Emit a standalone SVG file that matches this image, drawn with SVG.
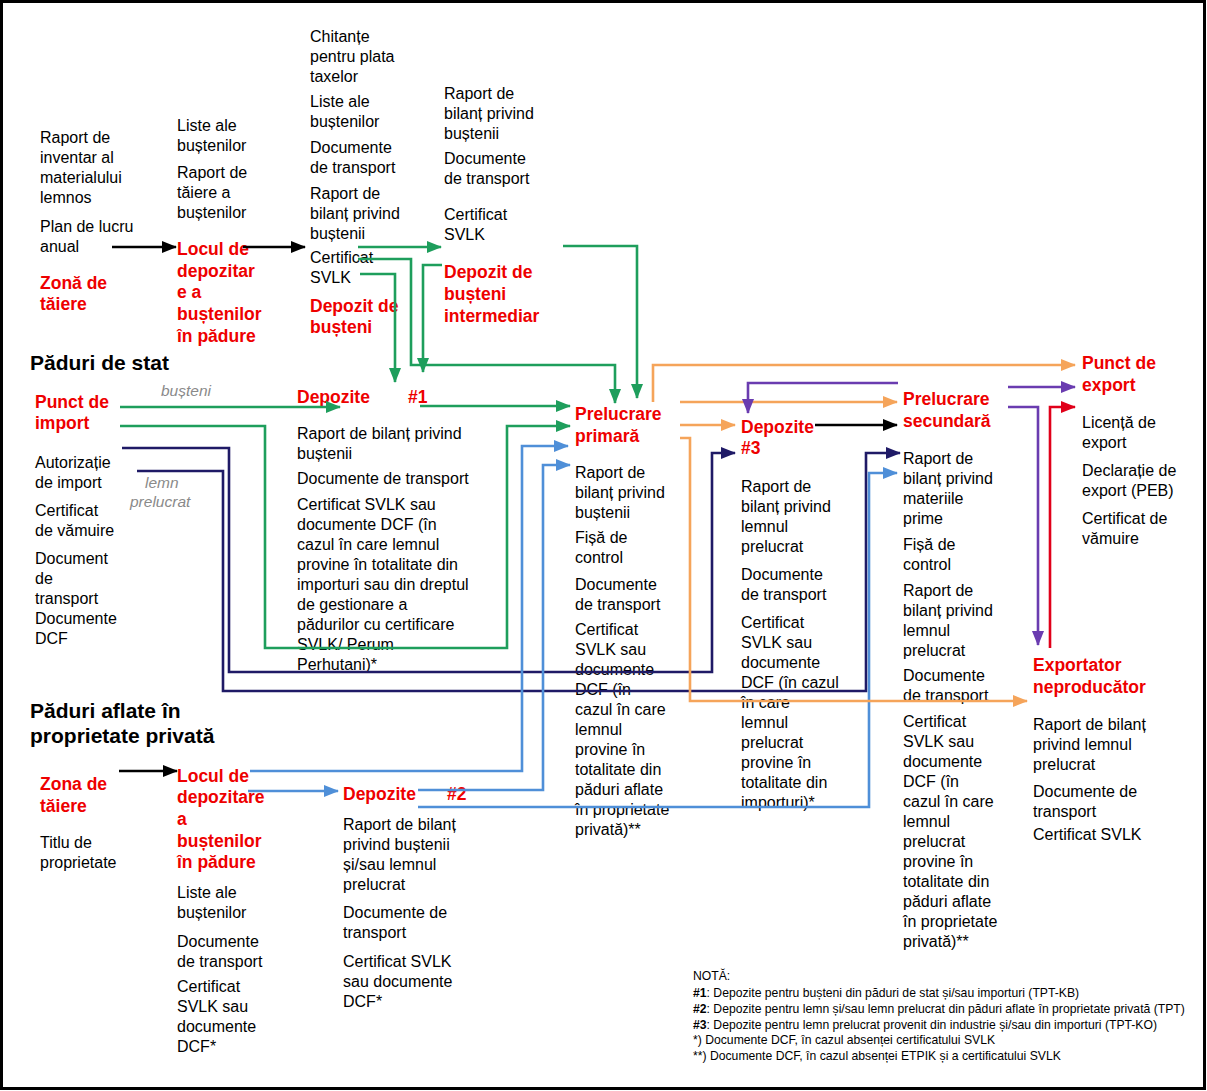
<svg xmlns="http://www.w3.org/2000/svg" width="1207" height="1091" viewBox="0 0 1207 1091">
<style>
text{font-family:"Liberation Sans",Arial,sans-serif}
.t{font-size:16px;fill:#000}
.r{font-size:17.5px;font-weight:bold;fill:#ee0000}
.h{font-size:21px;font-weight:bold;fill:#000}
.g{font-size:15.5px;font-style:italic;fill:#8a8a8a}
.n{font-size:12.2px;fill:#000}
.c{fill:none;stroke-width:2.6}
.k{stroke:#000;marker-end:url(#ak)}
.gr{stroke:#1e9e5c;marker-end:url(#ag)}
.nv{stroke:#1f1a66;marker-end:url(#an)}
.bl{stroke:#4f8fd8;marker-end:url(#ab)}
.or{stroke:#f5a45a;marker-end:url(#ao)}
.pu{stroke:#6a3cb0;marker-end:url(#ap)}
.rd{stroke:#e0001a;marker-end:url(#ar)}
</style>
<defs>
<marker id="ak" markerUnits="userSpaceOnUse" markerWidth="15" markerHeight="12" refX="14" refY="6" orient="auto"><path d="M0,0L15,6L0,12z" fill="#000"/></marker>
<marker id="ag" markerUnits="userSpaceOnUse" markerWidth="15" markerHeight="12" refX="14" refY="6" orient="auto"><path d="M0,0L15,6L0,12z" fill="#1e9e5c"/></marker>
<marker id="an" markerUnits="userSpaceOnUse" markerWidth="15" markerHeight="12" refX="14" refY="6" orient="auto"><path d="M0,0L15,6L0,12z" fill="#1f1a66"/></marker>
<marker id="ab" markerUnits="userSpaceOnUse" markerWidth="15" markerHeight="12" refX="14" refY="6" orient="auto"><path d="M0,0L15,6L0,12z" fill="#4f8fd8"/></marker>
<marker id="ao" markerUnits="userSpaceOnUse" markerWidth="15" markerHeight="12" refX="14" refY="6" orient="auto"><path d="M0,0L15,6L0,12z" fill="#f5a45a"/></marker>
<marker id="ap" markerUnits="userSpaceOnUse" markerWidth="15" markerHeight="12" refX="14" refY="6" orient="auto"><path d="M0,0L15,6L0,12z" fill="#6a3cb0"/></marker>
<marker id="ar" markerUnits="userSpaceOnUse" markerWidth="15" markerHeight="12" refX="14" refY="6" orient="auto"><path d="M0,0L15,6L0,12z" fill="#e0001a"/></marker>
</defs>
<rect x="0" y="0" width="1207" height="1091" fill="#fff"/>
<rect x="1.5" y="1.5" width="1203" height="1087" fill="none" stroke="#000" stroke-width="3"/>

<g id="zona-taiere-stat">
<text class="t" x="40"><tspan x="40" y="143">Raport de</tspan><tspan x="40" y="163">inventar al</tspan><tspan x="40" y="183">materialului</tspan><tspan x="40" y="203">lemnos</tspan><tspan x="40" y="232">Plan de lucru</tspan><tspan x="40" y="252">anual</tspan></text>
<text class="r"><tspan x="40" y="289">Zonă de</tspan><tspan x="40" y="310">tăiere</tspan></text>
</g>
<g id="locul-depozitare-stat">
<text class="t"><tspan x="177" y="131">Liste ale</tspan><tspan x="177" y="151">buștenilor</tspan><tspan x="177" y="178">Raport de</tspan><tspan x="177" y="198">tăiere a</tspan><tspan x="177" y="218">buștenilor</tspan></text>
<text class="r"><tspan x="177" y="255">Locul de</tspan><tspan x="177" y="277">depozitar</tspan><tspan x="177" y="298">e a</tspan><tspan x="177" y="320">buștenilor</tspan><tspan x="177" y="342">în pădure</tspan></text>
</g>
<g id="depozit-busteni">
<text class="t"><tspan x="310" y="42">Chitanțe</tspan><tspan x="310" y="62">pentru plata</tspan><tspan x="310" y="82">taxelor</tspan><tspan x="310" y="107">Liste ale</tspan><tspan x="310" y="127">buștenilor</tspan><tspan x="310" y="153">Documente</tspan><tspan x="310" y="173">de transport</tspan><tspan x="310" y="199">Raport de</tspan><tspan x="310" y="219">bilanț privind</tspan><tspan x="310" y="239">buștenii</tspan><tspan x="310" y="263">Certificat</tspan><tspan x="310" y="283">SVLK</tspan></text>
<text class="r"><tspan x="310" y="312">Depozit de</tspan><tspan x="310" y="333">bușteni</tspan></text>
</g>
<g id="depozit-intermediar">
<text class="t"><tspan x="444" y="99">Raport de</tspan><tspan x="444" y="119">bilanț privind</tspan><tspan x="444" y="139">buștenii</tspan><tspan x="444" y="164">Documente</tspan><tspan x="444" y="184">de transport</tspan><tspan x="444" y="220">Certificat</tspan><tspan x="444" y="240">SVLK</tspan></text>
<text class="r"><tspan x="444" y="278">Depozit de</tspan><tspan x="444" y="300">bușteni</tspan><tspan x="444" y="322">intermediar</tspan></text>
</g>
<g id="paduri-stat">
<text class="h" x="30" y="370">Păduri de stat</text>
</g>
<g id="punct-import">
<text class="r"><tspan x="35" y="408">Punct de</tspan><tspan x="35" y="429">import</tspan></text>
<text class="t"><tspan x="35" y="468">Autorizație</tspan><tspan x="35" y="488">de import</tspan><tspan x="35" y="516">Certificat</tspan><tspan x="35" y="536">de vămuire</tspan><tspan x="35" y="564">Document</tspan><tspan x="35" y="584">de</tspan><tspan x="35" y="604">transport</tspan><tspan x="35" y="624">Documente</tspan><tspan x="35" y="644">DCF</tspan></text>
</g>
<g id="etichete-flux">
<text class="g" x="161" y="396">bușteni</text>
<text class="g"><tspan x="145" y="488">lemn</tspan><tspan x="130" y="507">prelucrat</tspan></text>
</g>
<g id="depozite-1">
<text class="r"><tspan x="297" y="403">Depozite</tspan><tspan x="408" y="403">#1</tspan></text>
<text class="t"><tspan x="297" y="439">Raport de bilanț privind</tspan><tspan x="297" y="459">buștenii</tspan><tspan x="297" y="484">Documente de transport</tspan><tspan x="297" y="510">Certificat SVLK sau</tspan><tspan x="297" y="530">documente DCF (în</tspan><tspan x="297" y="550">cazul în care lemnul</tspan><tspan x="297" y="570">provine în totalitate din</tspan><tspan x="297" y="590">importuri sau din dreptul</tspan><tspan x="297" y="610">de gestionare a</tspan><tspan x="297" y="630">pădurilor cu certificare</tspan><tspan x="297" y="650">SVLK/ Perum</tspan><tspan x="297" y="670">Perhutani)*</tspan></text>
</g>
<g id="prelucrare-primara">
<text class="r"><tspan x="575" y="420">Prelucrare</tspan><tspan x="575" y="442">primară</tspan></text>
<text class="t"><tspan x="575" y="478">Raport de</tspan><tspan x="575" y="498">bilanț privind</tspan><tspan x="575" y="518">buștenii</tspan><tspan x="575" y="543">Fișă de</tspan><tspan x="575" y="563">control</tspan><tspan x="575" y="590">Documente</tspan><tspan x="575" y="610">de transport</tspan><tspan x="575" y="635">Certificat</tspan><tspan x="575" y="655">SVLK sau</tspan><tspan x="575" y="675">documente</tspan><tspan x="575" y="695">DCF  (în</tspan><tspan x="575" y="715">cazul în care</tspan><tspan x="575" y="735">lemnul</tspan><tspan x="575" y="755">provine în</tspan><tspan x="575" y="775">totalitate din</tspan><tspan x="575" y="795">păduri aflate</tspan><tspan x="575" y="815">în proprietate</tspan><tspan x="575" y="835">privată)**</tspan></text>
</g>
<g id="depozite-3">
<text class="r"><tspan x="741" y="433">Depozite</tspan><tspan x="741" y="454">#3</tspan></text>
<text class="t"><tspan x="741" y="492">Raport de</tspan><tspan x="741" y="512">bilanț privind</tspan><tspan x="741" y="532">lemnul</tspan><tspan x="741" y="552">prelucrat</tspan><tspan x="741" y="580">Documente</tspan><tspan x="741" y="600">de transport</tspan><tspan x="741" y="628">Certificat</tspan><tspan x="741" y="648">SVLK sau</tspan><tspan x="741" y="668">documente</tspan><tspan x="741" y="688">DCF (în cazul</tspan><tspan x="741" y="708">în care</tspan><tspan x="741" y="728">lemnul</tspan><tspan x="741" y="748">prelucrat</tspan><tspan x="741" y="768">provine în</tspan><tspan x="741" y="788">totalitate din</tspan><tspan x="741" y="808">importuri)*</tspan></text>
</g>
<g id="prelucrare-secundara">
<text class="r"><tspan x="903" y="405">Prelucrare</tspan><tspan x="903" y="427">secundară</tspan></text>
<text class="t"><tspan x="903" y="464">Raport de</tspan><tspan x="903" y="484">bilanț privind</tspan><tspan x="903" y="504">materiile</tspan><tspan x="903" y="524">prime</tspan><tspan x="903" y="550">Fișă de</tspan><tspan x="903" y="570">control</tspan><tspan x="903" y="596">Raport de</tspan><tspan x="903" y="616">bilanț privind</tspan><tspan x="903" y="636">lemnul</tspan><tspan x="903" y="656">prelucrat</tspan><tspan x="903" y="681">Documente</tspan><tspan x="903" y="701">de transport</tspan><tspan x="903" y="727">Certificat</tspan><tspan x="903" y="747">SVLK sau</tspan><tspan x="903" y="767">documente</tspan><tspan x="903" y="787">DCF  (în</tspan><tspan x="903" y="807">cazul în care</tspan><tspan x="903" y="827">lemnul</tspan><tspan x="903" y="847">prelucrat</tspan><tspan x="903" y="867">provine în</tspan><tspan x="903" y="887">totalitate din</tspan><tspan x="903" y="907">păduri aflate</tspan><tspan x="903" y="927">în proprietate</tspan><tspan x="903" y="947">privată)**</tspan></text>
</g>
<g id="punct-export">
<text class="r"><tspan x="1082" y="369">Punct de</tspan><tspan x="1082" y="391">export</tspan></text>
<text class="t"><tspan x="1082" y="428">Licență de</tspan><tspan x="1082" y="448">export</tspan><tspan x="1082" y="476">Declarație de</tspan><tspan x="1082" y="496">export (PEB)</tspan><tspan x="1082" y="524">Certificat de</tspan><tspan x="1082" y="544">vămuire</tspan></text>
</g>
<g id="exportator-neproducator">
<text class="r"><tspan x="1033" y="671">Exportator</tspan><tspan x="1033" y="693">neproducător</tspan></text>
<text class="t"><tspan x="1033" y="730">Raport de bilanț</tspan><tspan x="1033" y="750">privind lemnul</tspan><tspan x="1033" y="770">prelucrat</tspan><tspan x="1033" y="797">Documente de</tspan><tspan x="1033" y="817">transport</tspan><tspan x="1033" y="840">Certificat SVLK</tspan></text>
</g>
<g id="paduri-private">
<text class="h"><tspan x="30" y="718">Păduri aflate în</tspan><tspan x="30" y="743">proprietate privată</tspan></text>
</g>
<g id="zona-taiere-priv">
<text class="r"><tspan x="40" y="790">Zona de</tspan><tspan x="40" y="812">tăiere</tspan></text>
<text class="t"><tspan x="40" y="848">Titlu de</tspan><tspan x="40" y="868">proprietate</tspan></text>
</g>
<g id="locul-depozitare-priv">
<text class="r"><tspan x="177" y="782">Locul de</tspan><tspan x="177" y="803">depozitare</tspan><tspan x="177" y="825">a</tspan><tspan x="177" y="847">buștenilor</tspan><tspan x="177" y="868">în pădure</tspan></text>
<text class="t"><tspan x="177" y="898">Liste ale</tspan><tspan x="177" y="918">buștenilor</tspan><tspan x="177" y="947">Documente</tspan><tspan x="177" y="967">de transport</tspan><tspan x="177" y="992">Certificat</tspan><tspan x="177" y="1012">SVLK sau</tspan><tspan x="177" y="1032">documente</tspan><tspan x="177" y="1052">DCF*</tspan></text>
</g>
<g id="depozite-2">
<text class="r"><tspan x="343" y="800">Depozite</tspan><tspan x="447" y="800">#2</tspan></text>
<text class="t"><tspan x="343" y="830">Raport de bilanț</tspan><tspan x="343" y="850">privind buștenii</tspan><tspan x="343" y="870">și/sau  lemnul</tspan><tspan x="343" y="890">prelucrat</tspan><tspan x="343" y="918">Documente de</tspan><tspan x="343" y="938">transport</tspan><tspan x="343" y="967">Certificat SVLK</tspan><tspan x="343" y="987">sau  documente</tspan><tspan x="343" y="1007">DCF*</tspan></text>
</g>
<g id="nota">
<text class="n"><tspan x="693" y="980">NOTĂ:</tspan><tspan x="693" y="997"><tspan font-weight="bold">#1</tspan>: Depozite pentru bușteni din păduri de stat și/sau importuri (TPT-KB)</tspan><tspan x="693" y="1013"><tspan font-weight="bold">#2</tspan>: Depozite pentru lemn și/sau lemn prelucrat din păduri aflate în proprietate privată (TPT)</tspan><tspan x="693" y="1029"><tspan font-weight="bold">#3</tspan>: Depozite pentru lemn prelucrat provenit din industrie și/sau din importuri (TPT-KO)</tspan><tspan x="693" y="1044">*) Documente DCF, în cazul absenței certificatului SVLK</tspan><tspan x="693" y="1060">**) Documente DCF, în cazul absenței ETPIK și a certificatului SVLK</tspan></text>
</g>

<g id="connectors">
<path class="c k" d="M112,247H176"/>
<path class="c k" d="M243,247H305"/>
<path class="c k" d="M815,425H897"/>
<path class="c k" d="M119,771H177"/>
<path class="c gr" d="M358,247H441"/>
<path class="c gr" d="M358,259H411V365H615V403"/>
<path class="c gr" d="M360,274H395V382"/>
<path class="c gr" d="M442,265H423V372"/>
<path class="c gr" d="M563,246H637V398"/>
<path class="c gr" d="M420,406H570"/>
<path class="c gr" d="M120,407H340"/>
<path class="c gr" d="M120,426H265V648H507V426H570"/>
<path class="c nv" d="M122,448H229V672H712V453H735"/>
<path class="c nv" d="M137,471H223V691H866V453H900"/>
<path class="c bl" d="M250,771H522V446H568"/>
<path class="c bl" d="M248,791H338"/>
<path class="c bl" d="M418,790H543V465H570"/>
<path class="c bl" d="M418,807H869V473H897"/>
<path class="c or" d="M653,402V365H1075"/>
<path class="c or" d="M680,402H897"/>
<path class="c or" d="M680,425H735"/>
<path class="c or" d="M680,438H690V701H1027"/>
<path class="c pu" d="M898,383H748V413"/>
<path class="c pu" d="M1008,387H1075"/>
<path class="c pu" d="M1008,407H1038V645"/>
<path class="c rd" d="M1050,648V407H1075"/>
</g>
</svg>
